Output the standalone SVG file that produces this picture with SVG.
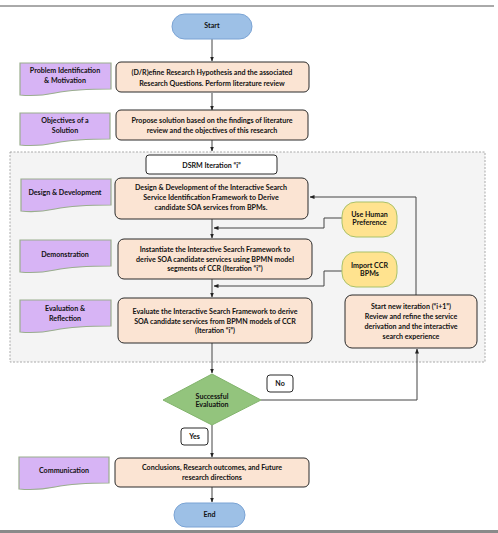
<svg xmlns="http://www.w3.org/2000/svg" width="498" height="533" viewBox="0 0 498 533">
<defs>
<style>
text{font-family:Lato,"Liberation Sans",sans-serif;font-weight:bold;font-size:7.1px;fill:#111;text-anchor:middle}
.proc{fill:#fbe4d3;stroke:#2a2a2a;stroke-width:1}
.term{fill:#9dc0e6;stroke:#7aa3d4;stroke-width:1}
.doc{fill:#d7b4f5;stroke:#9aae8e;stroke-width:1.2}
.pill{fill:#ffe38f;stroke:#a9c26a;stroke-width:1}
.lbl{fill:#fff;stroke:#2a2a2a;stroke-width:1}
.conn{fill:none;stroke:#444;stroke-width:1}
</style>
<marker id="ah" viewBox="0 0 10 10" refX="9" refY="5" markerWidth="5" markerHeight="5" orient="auto">
<path d="M0,1 L10,5 L0,9 Z" fill="#222"/>
</marker>
</defs>
<rect width="498" height="533" fill="#fff"/>
<line x1="0" y1="6" x2="494" y2="6" stroke="#555" stroke-width="1"/>
<rect x="0" y="530" width="498" height="3" fill="#8a8a8a"/>

<g id="iteration-container">
<rect x="10" y="152" width="475" height="210" fill="#f4f4f4" stroke="#aaa" stroke-width="1" stroke-dasharray="2,1.5"/>
</g>

<g id="connectors">
<path class="conn" d="M212,39 V61" marker-end="url(#ah)"/>
<path class="conn" d="M212,93 V110" marker-end="url(#ah)"/>
<path class="conn" d="M212,140 V151" marker-end="url(#ah)"/>
<path class="conn" d="M212,219 V238" marker-end="url(#ah)"/>
<path class="conn" d="M342,218 H324 V228 H214" marker-end="url(#ah)"/>
<path class="conn" d="M212,279 V297" marker-end="url(#ah)"/>
<path class="conn" d="M342,271 H324 V286 H214" marker-end="url(#ah)"/>
<path class="conn" d="M212,343 V373" marker-end="url(#ah)"/>
<path class="conn" d="M212,425 V457" marker-end="url(#ah)"/>
<path class="conn" d="M261,400 H417 V349" marker-end="url(#ah)"/>
<path class="conn" d="M416,295 V197 H310" marker-end="url(#ah)"/>
<path class="conn" d="M212,487 V502" marker-end="url(#ah)"/>
</g>

<g id="start">
<rect class="term" x="172" y="14" width="80" height="25" rx="12.5"/>
<text x="212" y="27.5">Start</text>
</g>

<g id="lbl-problem">
<path class="doc" d="M20,63 H111 V89 C90,89 70,90 55,93 C40,96 30,96 20,95 Z"/>
<text x="65" y="72.5">Problem Identification</text>
<text x="65" y="82.5">&amp; Motivation</text>
</g>
<g id="problem">
<rect class="proc" x="116" y="62" width="193" height="30" rx="5"/>
<text x="212" y="74.5">(D/R)efine Research Hypothesis and the associated</text>
<text x="212" y="85.5">Research Questions. Perform literature review</text>
</g>

<g id="lbl-objectives">
<path class="doc" d="M20,113 H110 V139 C90,139 70,140 55,143 C40,146 30,146 20,145 Z"/>
<text x="65" y="122.5">Objectives of a</text>
<text x="65" y="132.5">Solution</text>
</g>
<g id="objectives">
<rect class="proc" x="116" y="110" width="192" height="30" rx="5"/>
<text x="212" y="122.5">Propose solution based on the findings of literature</text>
<text x="212" y="132.5">review and the objectives of this research</text>
</g>

<g id="dsrm-title">
<rect class="lbl" x="146" y="155" width="131" height="19" rx="3"/>
<text x="211.5" y="167.5" font-size="7.6">DSRM Iteration “i”</text>
</g>

<g id="lbl-design">
<path class="doc" d="M21,179 H111 V205 C90,205 70,206 55,209 C40,212 30,212 21,211 Z"/>
<text x="65" y="194.5">Design &amp; Development</text>
</g>
<g id="design">
<rect class="proc" x="115" y="178" width="193" height="41" rx="6"/>
<text x="211" y="189.5">Design &amp; Development of the Interactive Search</text>
<text x="211" y="199.5">Service Identification Framework to Derive</text>
<text x="211" y="209.5">candidate SOA services from BPMs.</text>
</g>

<g id="human-pref">
<rect class="pill" x="342" y="202" width="55" height="35" rx="14"/>
<text x="369.5" y="216.5" font-size="6">Use Human</text>
<text x="369.5" y="224.5" font-size="6">Preference</text>
</g>

<g id="lbl-demo">
<path class="doc" d="M20,240 H111 V266 C90,266 70,267 55,270 C40,273 30,273 20,272 Z"/>
<text x="65" y="256.5">Demonstration</text>
</g>
<g id="demonstration">
<rect class="proc" x="118" y="239" width="194" height="40" rx="6"/>
<text x="215" y="251.5">Instantiate the Interactive Search Framework to</text>
<text x="215" y="261.5">derive SOA candidate services using BPMN model</text>
<text x="215" y="270.5">segments of CCR (Iteration “i”)</text>
</g>

<g id="import-ccr">
<rect class="pill" x="342" y="252" width="55" height="35" rx="14"/>
<text x="369.5" y="267.5" font-size="6">Import CCR</text>
<text x="369.5" y="275.5" font-size="6">BPMs</text>
</g>

<g id="lbl-eval">
<path class="doc" d="M20,300 H111 V326 C90,326 70,327 55,330 C40,333 30,333 20,332 Z"/>
<text x="65" y="310.5">Evaluation &amp;</text>
<text x="65" y="320.5">Reflection</text>
</g>
<g id="evaluation">
<rect class="proc" x="118" y="298" width="194" height="45" rx="6"/>
<text x="215" y="313.5">Evaluate the Interactive Search Framework to derive</text>
<text x="215" y="323.5">SOA candidate services from BPMN models of CCR</text>
<text x="215" y="332.5">(Iteration “i”)</text>
</g>

<g id="new-iteration">
<rect class="proc" x="345" y="295" width="132" height="53" rx="7"/>
<text x="411" y="308.5">Start new iteration (“i+1”)</text>
<text x="411" y="318.5">Review and refine the service</text>
<text x="411" y="328.5">derivation and the interactive</text>
<text x="411" y="338.5">search experience</text>
</g>

<g id="decision">
<path d="M212,374 L261,400 L212,425 L163,400 Z" fill="#93c47d" stroke="#82b46c" stroke-width="1"/>
<text x="212" y="399" font-size="6">Successful</text>
<text x="212" y="407" font-size="6">Evaluation</text>
</g>

<g id="label-no">
<rect class="lbl" x="267" y="375" width="26" height="17" rx="3"/>
<text x="280" y="385.5" font-size="6">No</text>
</g>
<g id="label-yes">
<rect class="lbl" x="181" y="428" width="27" height="17" rx="3"/>
<text x="194.5" y="438.5" font-size="6">Yes</text>
</g>

<g id="lbl-comm">
<path class="doc" d="M19,457 H109 V483 C90,483 70,484 55,487 C40,490 30,490 19,489 Z"/>
<text x="64" y="472.5">Communication</text>
</g>
<g id="communication">
<rect class="proc" x="115" y="458" width="194" height="29" rx="5"/>
<text x="212" y="469.5">Conclusions, Research outcomes, and Future</text>
<text x="212" y="479.5">research directions</text>
</g>

<g id="end">
<rect class="term" x="174" y="503" width="71" height="24" rx="12"/>
<text x="209.5" y="516.5">End</text>
</g>
</svg>
